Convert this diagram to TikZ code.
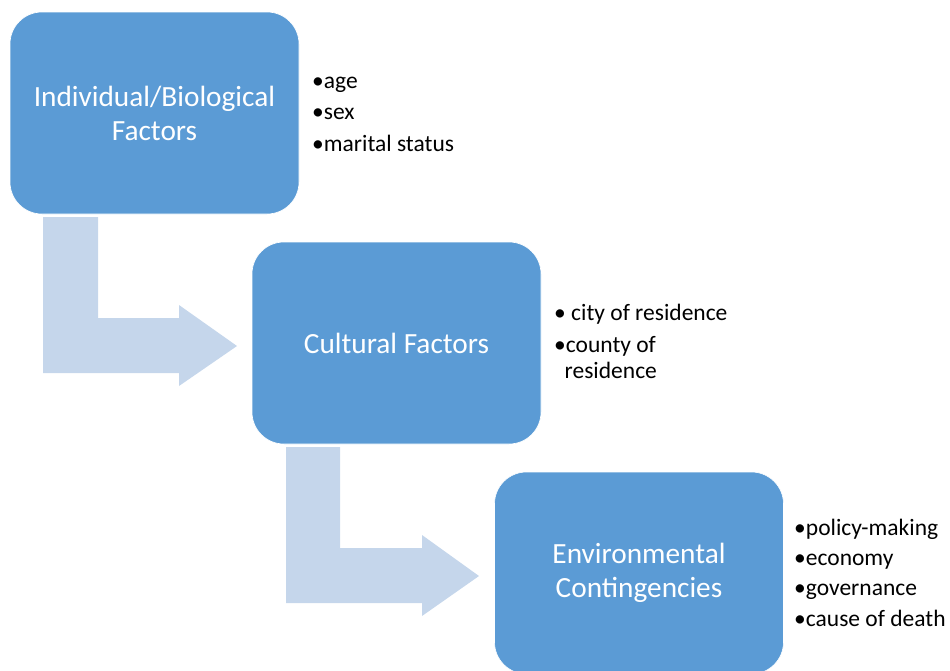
\documentclass[tikz,border=0pt]{standalone}
\usepackage{fontspec}
\setmainfont{Carlito}
\definecolor{boxblue}{HTML}{5B9BD5}
\definecolor{arrowblue}{HTML}{C5D6EB}
\tikzset{
  factorbox/.style={rectangle, rounded corners=32pt, fill=boxblue, draw=white, line width=0.6pt,
    minimum width=289pt, minimum height=202pt, text=white, align=center,
    font=\fontsize{29.3}{34}\selectfont, inner sep=0pt},
  bulletline/.style={anchor=base west, inner sep=0pt, text=black,
    font=\fontsize{23.5}{28}\selectfont},
  bendarrow/.style={fill=arrowblue, draw=none}
}
\begin{document}
\begin{tikzpicture}[x=1pt,y=-1pt]
\useasboundingbox (0,0) rectangle (950,670);
\clip (0,0) rectangle (950,670);
% bent arrows
\fill[bendarrow] (43,217) -- (98,217) -- (98,318) -- (179,318) -- (179,305) -- (237,346)
  -- (179,386) -- (179,373) -- (43,373) -- cycle;
\fill[bendarrow] (286,447) -- (340,447) -- (340,548) -- (422,548) -- (422,535) -- (479,576)
  -- (422,616) -- (422,603) -- (286,603) -- cycle;
% boxes
\node[factorbox] (b1) at (154.5,113) {Individual/Biological\\Factors};
\node[factorbox] (b2) at (396.5,343) {Cultural Factors};
\node[factorbox] (b3) at (639,573) {Environmental\\Contingencies};
% bullets
\node[bulletline] (l1a) at (312,88) {•age};
\node[bulletline] (l1b) at (312,119) {•sex};
\node[bulletline] (l1c) at (312,151) {•marital status};
\node[bulletline] (l2a) at (554,320) {• city of residence};
\node[bulletline] (l2b) at (554,352) {•county of};
\node[bulletline] (l2c) at (564.5,378) {residence};
\node[bulletline] (l3a) at (794,535) {•policy-making};
\node[bulletline] (l3b) at (794,565) {•economy};
\node[bulletline] (l3c) at (794,595) {•governance};
\node[bulletline] (l3d) at (794,626) {•cause of death};
\end{tikzpicture}
\end{document}
